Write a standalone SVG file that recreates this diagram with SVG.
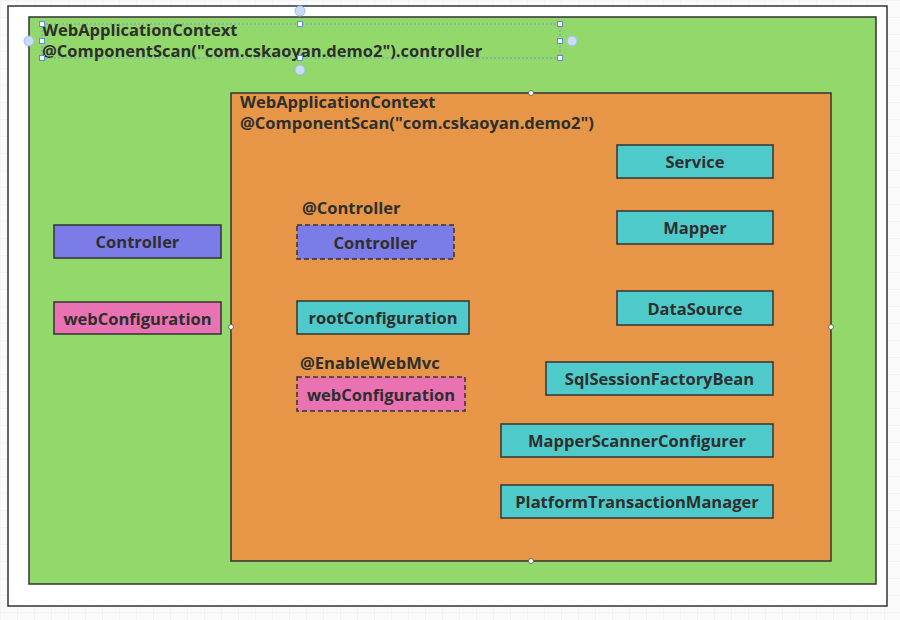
<svg xmlns="http://www.w3.org/2000/svg" width="900" height="620" viewBox="0 0 900 620">
<defs>
<pattern id="grid" width="17" height="17" patternUnits="userSpaceOnUse">
<path d="M17 0 L0 0 0 17" fill="none" stroke="#ececec" stroke-width="1"/>
</pattern>
<style>
.t{font-family:"Open Sans","Noto Sans","Liberation Sans",sans-serif;font-weight:bold;font-size:16.5px;fill:#2e2e2e}
.c{text-anchor:middle;dominant-baseline:central}
.box{stroke:#333;stroke-width:1.5}
.dash{stroke:#333;stroke-width:1.5;stroke-dasharray:5 3}
.blue{fill:#7c7ce9}
.pink{fill:#e872b2}
.teal{fill:#4fcaca}
.h{fill:#fff;stroke:#5b8fd6;stroke-width:1}
.hb{fill:#c8dcf5;stroke:#9fbfe8;stroke-width:1}
.ho{fill:#fff;stroke:#555;stroke-width:0.8}
</style>
</defs>
<rect width="900" height="620" fill="#fafafa"/>
<rect width="900" height="620" fill="url(#grid)"/>
<rect x="8" y="6" width="879" height="600" fill="#fff" stroke="#333" stroke-width="1.5"/>
<g id="outerContext">
<rect x="29" y="17" width="847" height="567" fill="#92d86a" stroke="#333" stroke-width="1.5"/>
<text class="t" x="42" y="36">WebApplicationContext</text>
<text class="t" x="42" y="57">@ComponentScan("com.cskaoyan.demo2").controller</text>
</g>
<g id="innerContext">
<rect x="231" y="93" width="600" height="468" fill="#e69646" stroke="#333" stroke-width="1.5"/>
<text class="t" x="240" y="108">WebApplicationContext</text>
<text class="t" x="240" y="129">@ComponentScan("com.cskaoyan.demo2")</text>
</g>
<g id="controllerOuter"><rect class="box blue" x="54" y="225" width="167" height="33"/><text class="t c" x="137.5" y="241.5">Controller</text></g>
<g id="webConfigurationOuter"><rect class="box pink" x="54" y="302" width="167" height="32"/><text class="t c" x="137.5" y="318">webConfiguration</text></g>
<g id="controllerInner">
<text class="t" x="302" y="214">@Controller</text>
<rect class="dash blue" x="297" y="225" width="157" height="34"/><text class="t c" x="375.5" y="242">Controller</text></g>
<g id="rootConfiguration"><rect class="box teal" x="297" y="301" width="172" height="33"/><text class="t c" x="383" y="317.5">rootConfiguration</text></g>
<g id="webConfigurationInner">
<text class="t" x="300" y="369">@EnableWebMvc</text>
<rect class="dash pink" x="297" y="377" width="168" height="34"/><text class="t c" x="381" y="394">webConfiguration</text></g>
<g id="service"><rect class="box teal" x="617" y="145" width="156" height="33"/><text class="t c" x="695" y="161.5">Service</text></g>
<g id="mapper"><rect class="box teal" x="617" y="211" width="156" height="33"/><text class="t c" x="695" y="227.5">Mapper</text></g>
<g id="dataSource"><rect class="box teal" x="617" y="291" width="156" height="34"/><text class="t c" x="695" y="308">DataSource</text></g>
<g id="sqlSessionFactoryBean"><rect class="box teal" x="546" y="362" width="227" height="33"/><text class="t c" x="659.5" y="378.5">SqlSessionFactoryBean</text></g>
<g id="mapperScannerConfigurer"><rect class="box teal" x="501" y="424" width="272" height="33"/><text class="t c" x="637" y="440.5">MapperScannerConfigurer</text></g>
<g id="platformTransactionManager"><rect class="box teal" x="501" y="485" width="272" height="33"/><text class="t c" x="637" y="501.5">PlatformTransactionManager</text></g>
<g id="connectors"></g>
<g id="selection">
<rect x="42" y="24" width="518" height="34" fill="none" stroke="#6a98d4" stroke-width="1" stroke-dasharray="2 2"/>
<circle class="hb" cx="300" cy="11" r="5"/><circle class="hb" cx="300" cy="70" r="5"/>
<circle class="hb" cx="29" cy="41" r="5"/><circle class="hb" cx="572" cy="41" r="5"/>
<rect class="h" x="39.5" y="21.5" width="5" height="5"/><rect class="h" x="297.5" y="21.5" width="5" height="5"/><rect class="h" x="557.5" y="21.5" width="5" height="5"/>
<rect class="h" x="39.5" y="38.5" width="5" height="5"/><rect class="h" x="557.5" y="38.5" width="5" height="5"/>
<rect class="h" x="39.5" y="55.5" width="5" height="5"/><rect class="h" x="297.5" y="55.5" width="5" height="5"/><rect class="h" x="557.5" y="55.5" width="5" height="5"/>
<circle class="ho" cx="531" cy="93" r="2.5"/><circle class="ho" cx="231" cy="327" r="2.5"/>
<circle class="ho" cx="831" cy="327" r="2.5"/><circle class="ho" cx="531" cy="561" r="2.5"/>
</g>
</svg>
